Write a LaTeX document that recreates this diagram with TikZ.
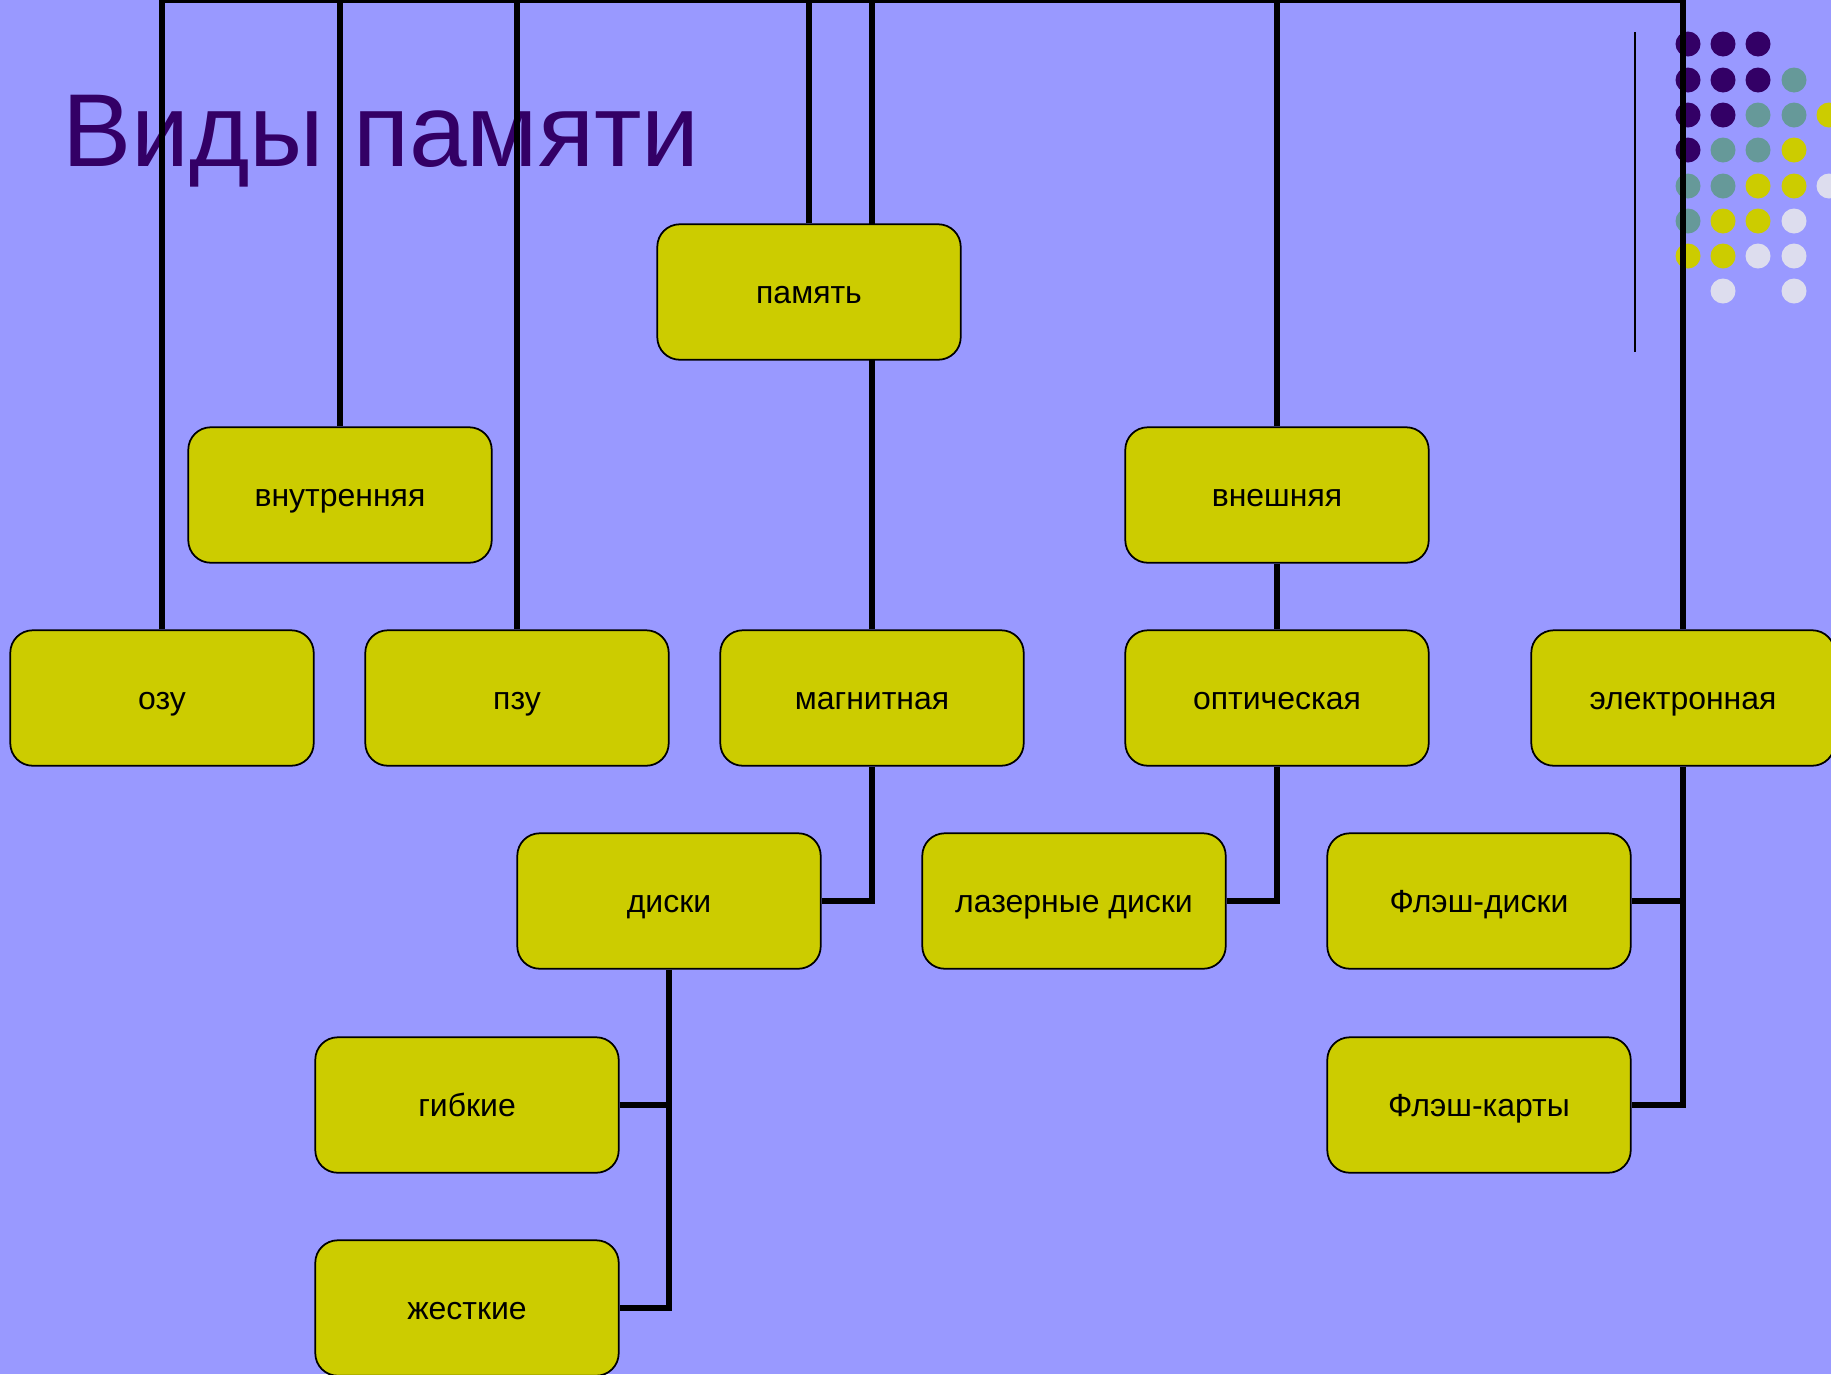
\documentclass[tikz,border=0pt]{standalone}
\usepackage{fontspec}
\setmainfont{Liberation Sans}
\usetikzlibrary{backgrounds}

\definecolor{slidebg}{HTML}{9999FF}
\definecolor{boxfill}{HTML}{CCCC00}
\definecolor{dotp}{HTML}{330066}
\definecolor{dott}{HTML}{669999}
\definecolor{doty}{HTML}{CCCC00}
\definecolor{dotl}{HTML}{DDDDEE}

\begin{document}
\begin{tikzpicture}[x=0.02cm, y=-0.02cm,
        box/.style={draw, fill=boxfill, rounded corners=0.45cm, line width=1pt,
            minimum width=6.07cm, minimum height=2.71cm, text height=13pt, text depth=0pt,
            font=\fontsize{18.2}{22}\selectfont},
        link/.style={line width=3.2pt}]
        \useasboundingbox (0, 0) rectangle (1831, 1374);

        % Boxes
        \node[box] (mem) at (809, 292) {память};
        \node[box] (intl) at (340, 495) {внутренняя};
        \node[box] (extl) at (1277, 495) {внешняя};
        \node[box] (ozu) at (162, 698) {озу};
        \node[box] (pzu) at (517, 698) {пзу};
        \node[box] (mag) at (872, 698) {магнитная};
        \node[box] (opt) at (1277, 698) {оптическая};
        \node[box] (elec) at (1683, 698) {электронная};
        \node[box] (disk) at (669, 901) {диски};
        \node[box] (laser) at (1074, 901) {лазерные диски};
        \node[box] (fd) at (1479, 901) {Флэш-диски};
        \node[box] (flex) at (467, 1105) {гибкие};
        \node[box] (fc) at (1479, 1105) {Флэш-карты};
        \node[box] (hard) at (467, 1308) {жесткие};

        \coordinate (topbar) at (0, 0.5);

        \begin{scope}[on background layer]
            \fill[slidebg] (0, 0) rectangle (1831, 1374);

            % Title and dots
            \node[anchor=base west, inner sep=0, text=dotp, font=\fontsize{59}{64}\selectfont] (title) at (62, 166) {Виды памяти};
            \foreach \x/\y/\c in {1688/44/dotp, 1723/44/dotp, 1758/44/dotp,
                    1688/80/dotp, 1723/80/dotp, 1758/80/dotp, 1794/80/dott,
                    1688/115/dotp, 1723/115/dotp, 1758/115/dott, 1794/115/dott, 1829/115/doty,
                    1688/150/dotp, 1723/150/dott, 1758/150/dott, 1794/150/doty,
                    1688/186/dott, 1723/186/dott, 1758/186/doty, 1794/186/doty, 1829/186/dotl,
                    1688/221/dott, 1723/221/doty, 1758/221/doty, 1794/221/dotl,
                    1688/256/doty, 1723/256/doty, 1758/256/dotl, 1794/256/dotl,
                    1723/291/dotl, 1794/291/dotl}
                \fill[\c] (\x, \y) circle (0.25cm);
            \draw[line width=1.1pt] (1635, 32) -- (1635, 352);

            % Connections
            \draw[link] (ozu.north) |- (elec.north |- topbar) -- (elec.north);
            \foreach \n in {intl, pzu, mem, mag, extl}
                \draw[link] (\n.north) -- (\n.north |- topbar);
            \draw[link] (extl) -- (opt);
            \draw[link] (mag.south) |- (disk.east);
            \draw[link] (opt.south) |- (laser.east);
            \draw[link] (elec.south) |- (fc.east);
            \draw[link] (fd.east) -| (elec.south);
            \draw[link] (disk.south) |- (hard.east);
            \draw[link] (flex.east) -| (disk.south);
        \end{scope}
    \end{tikzpicture}
\end{document}
